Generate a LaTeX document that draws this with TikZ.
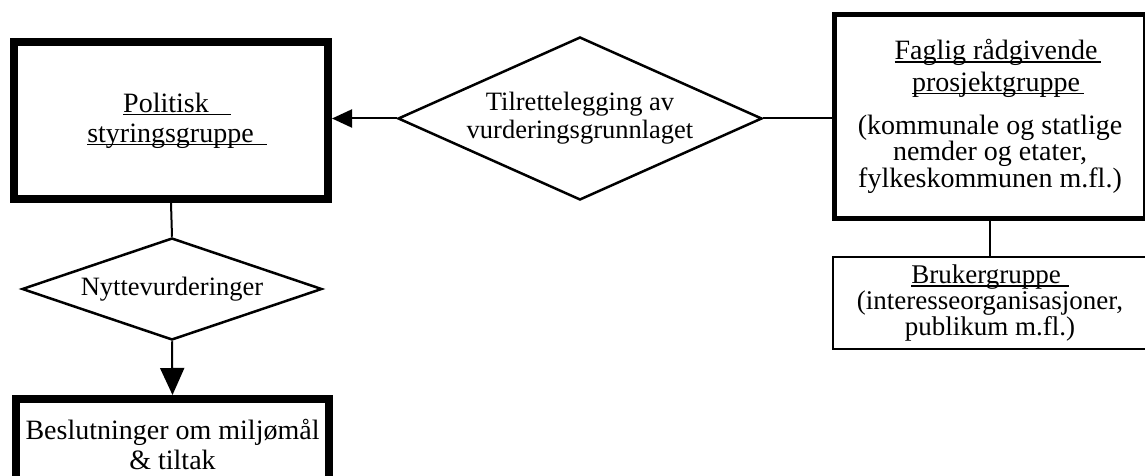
\documentclass[tikz,border=0pt]{standalone}
\usepackage{fontspec}
\setmainfont{Liberation Serif}
\usetikzlibrary{shapes.geometric,arrows.meta}
\newcommand\ulx[1]{\sbox0{#1}\rlap{\rule[-3pt]{\wd0}{1.3pt}}\usebox0}
\begin{document}
\begin{tikzpicture}[x=1pt,y=-1pt,
  txt/.style={font=\fontsize{28}{30}\selectfont},
  dtxt/.style={font=\fontsize{26.5}{28}\selectfont},
  thickbox/.style={txt,draw,rectangle,line width=8pt,inner sep=0pt,align=center},
  midbox/.style={draw,rectangle,line width=5pt,inner sep=0pt,align=center},
  thinbox/.style={draw,rectangle,line width=2pt,inner sep=0pt,align=center},
  dia/.style={dtxt,draw,diamond,line width=2.5pt,inner sep=0pt,align=center},
  conn/.style={line width=2pt},
  arrL/.style={conn,-{Triangle[width=18pt,length=20pt]}},
  arrD/.style={conn,-{Triangle[width=24pt,length=27pt]}}
]
\useasboundingbox (0,0) rectangle (1145,476);
\clip (0,0) rectangle (1145,476);

\node[thickbox,minimum width=314pt,minimum height=157pt] (pol) at (171,120.5)
  {\hspace*{12pt}\ulx{Politisk\hspace{22pt}}\\\hspace*{12pt}\ulx{styringsgruppe\hspace{13pt}}};
\node[dia,aspect=2.233,minimum width=364pt,minimum height=163pt] (til) at (580,118.5)
  {Tilrettelegging av\\vurderingsgrunnlaget};
\node[midbox,font=\fontsize{28}{24}\selectfont,minimum width=311pt,minimum height=204pt] (fag) at (990,116.5)
  {\hspace*{16pt}\ulx{Faglig rådgivende\hspace{4pt}}\\[5pt]\hspace*{16pt}\ulx{prosjektgruppe\hspace{4pt}}\\[17pt]
   (kommunale og statlige\\nemder og etater,\\fylkeskommunen m.fl.)};
\node[thinbox,font=\fontsize{27}{24}\selectfont,minimum width=314pt,minimum height=92pt] (bru) at (990,303)
  {\ulx{Brukergruppe\hspace{8pt}}\\(interesseorganisasjoner,\\publikum m.fl.)};
\node[dia,aspect=2.94,minimum width=300pt,minimum height=102pt] (nyt) at (172,289)
  {Nyttevurderinger};
\node[thickbox,minimum width=313pt,minimum height=91pt] (bes) at (172.5,444.5)
  {Beslutninger om miljømål\\\& tiltak};

\draw[conn] (pol.south) -- (nyt.north);
\draw[arrD] (nyt.south) -- (bes.north);
\draw[arrL] (til.west) -- (til.west -| pol.east);
\draw[conn] (til.east) -- (til.east -| fag.west);
\draw[conn] (fag.south) -- (bru.north);
\end{tikzpicture}
\end{document}
